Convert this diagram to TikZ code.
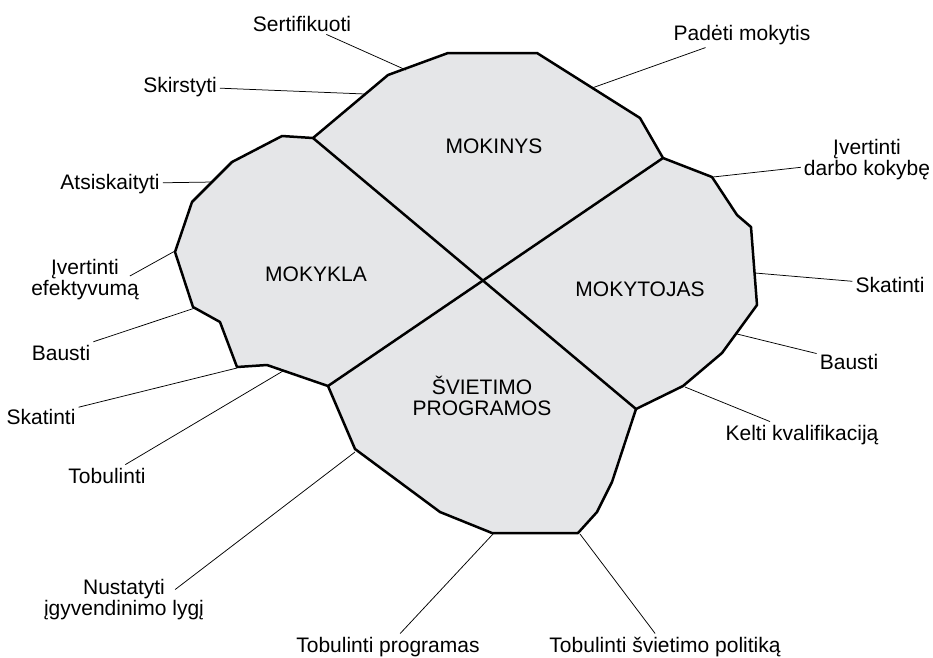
\documentclass[tikz,border=0pt]{standalone}
\usepackage{fontspec}
\setmainfont{Liberation Sans}
\definecolor{areagray}{RGB}{229,230,232}

\begin{document}
\begin{tikzpicture}
[x=1pt, y=-1pt,
 every node/.style={inner sep=3pt, font=\fontsize{21}{21}\selectfont},
 lbl/.style={text=black},
 region/.style={text=black},
 leader/.style={line width=0.75pt, draw=black},
 rim/.style={line width=2.5pt, draw=black, line join=round}]
\useasboundingbox (0,0) rectangle (933,657);
% outline of the four areas
\coordinate (p1) at (448,53);
\coordinate (p2) at (537,53);
\coordinate (p3) at (640,118);
\coordinate (ne) at (663,158);
\coordinate (p5) at (712,177);
\coordinate (p6) at (737,215);
\coordinate (p7) at (751,227);
\coordinate (p8) at (757,305);
\coordinate (p9) at (722,353);
\coordinate (p10) at (683,386);
\coordinate (se) at (636,409);
\coordinate (p12) at (612,482);
\coordinate (p13) at (597,512);
\coordinate (p14) at (578,533);
\coordinate (p15) at (492,533);
\coordinate (p16) at (440,512);
\coordinate (p17) at (355,449);
\coordinate (sw) at (328,386);
\coordinate (p19) at (267,365);
\coordinate (p20) at (237,367);
\coordinate (p21) at (220,322);
\coordinate (p22) at (193,307);
\coordinate (p23) at (175,252);
\coordinate (p24) at (192,202);
\coordinate (p25) at (232,162);
\coordinate (p26) at (282,136);
\coordinate (nw) at (313,138);
\coordinate (p28) at (388,75);
\draw [rim, fill=areagray] (p1) -- (p2) -- (p3) -- (ne) -- (p5) -- (p6) -- (p7) -- (p8) -- (p9) -- (p10) -- (se) -- (p12) -- (p13) -- (p14) -- (p15) -- (p16) -- (p17) -- (sw) -- (p19) -- (p20) -- (p21) -- (p22) -- (p23) -- (p24) -- (p25) -- (p26) -- (nw) -- (p28) -- cycle;
\draw [rim] (nw) -- (se);
\draw [rim] (ne) -- (sw);
% area names
\node (mokinys) [region, anchor=base] at (494,153) {MOKINYS};
\node (mokykla) [region, anchor=base] at (316,281) {MOKYKLA};
\node (mokytojas) [region, anchor=base] at (640,296) {MOKYTOJAS};
\node (programos) [region, align=center] at (482,396) {ŠVIETIMO\\PROGRAMOS};
% points where the leaders touch the rim
\coordinate (sert-pt) at (406,70);
\coordinate (skirst-pt) at (365,94);
\coordinate (padeti-pt) at (592,88);
\coordinate (darbo-pt) at (713,177);
\coordinate (skatR-pt) at (755,273);
\coordinate (baustR-pt) at (737,334);
\coordinate (kelti-pt) at (685,387);
\coordinate (atsisk-pt) at (213,182);
\coordinate (efekt-pt) at (175,251);
\coordinate (baustL-pt) at (195,308);
\coordinate (skatL-pt) at (237,368);
\coordinate (tobL-pt) at (283,371);
\coordinate (nust-pt) at (355,452);
\coordinate (tobProg-pt) at (493,534);
\coordinate (tobPol-pt) at (580,534);
% labels
\node (sert) [lbl, anchor=base] at (302,31) {Sertifikuoti};
\node (skirst) [lbl, anchor=base] at (180,92) {Skirstyti};
\node (padeti) [lbl, anchor=base] at (742,40) {Padėti mokytis};
\node (darbo) [lbl, align=center] at (867,160) {Įvertinti\\darbo kokybę};
\node (skatR) [lbl, anchor=base] at (890,292) {Skatinti};
\node (baustR) [lbl, anchor=base] at (849,369) {Bausti};
\node (kelti) [lbl, anchor=base] at (802,440) {Kelti kvalifikaciją};
\node (atsisk) [lbl, anchor=base] at (110,189) {Atsiskaityti};
\node (efekt) [lbl, align=center] at (85,280) {Įvertinti\\efektyvumą};
\node (baustL) [lbl, anchor=base] at (61,360) {Bausti};
\node (skatL) [lbl, anchor=base] at (41,424) {Skatinti};
\node (tobL) [lbl, anchor=base] at (107,483) {Tobulinti};
\node (nust) [lbl, align=center] at (124,600) {Nustatyti\\įgyvendinimo lygį};
\node (tobProg) [lbl, anchor=base] at (388,652) {Tobulinti programas};
\node (tobPol) [lbl, anchor=base] at (665,652) {Tobulinti švietimo politiką};
% leaders
\draw [leader] (sert) -- (sert-pt);
\draw [leader] (skirst) -- (skirst-pt);
\draw [leader] (padeti) -- (padeti-pt);
\draw [leader] (darbo) -- (darbo-pt);
\draw [leader] (skatR) -- (skatR-pt);
\draw [leader] (baustR) -- (baustR-pt);
\draw [leader] (kelti) -- (kelti-pt);
\draw [leader] (atsisk) -- (atsisk-pt);
\draw [leader] ([shift={(-12,-4)}]efekt.east) -- (efekt-pt);
\draw [leader] (baustL) -- (baustL-pt);
\draw [leader] (skatL) -- (skatL-pt);
\draw [leader] (tobL) -- (tobL-pt);
\draw [leader] ([shift={(-32,13)}]nust.north east) -- (nust-pt);
\draw [leader] (tobProg) -- (tobProg-pt);
\draw [leader] (tobPol) -- (tobPol-pt);
\end{tikzpicture}
\end{document}
